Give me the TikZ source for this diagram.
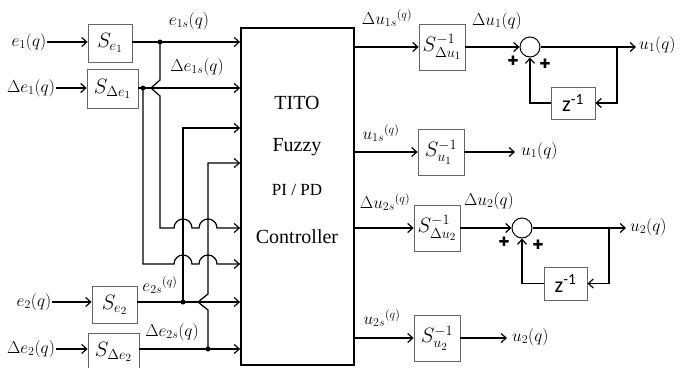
\documentclass[tikz,border=0pt]{standalone}
\usepackage{fontspec}
\usepackage{amsmath}
\usepackage{tikz}
\usetikzlibrary{arrows.meta, positioning, calc}
\newfontfamily\ctrlfont{Liberation Serif}
\newfontfamily\zfont{Carlito}
\newfontfamily\plusfont{DejaVu Sans}
\tikzset{
	sbox/.style={rectangle, draw=black!60, line width=0.8pt, minimum width=46pt,
		minimum height=46pt, inner sep=0pt, font=\fontsize{22.5}{25}\selectfont},
	zbox/.style={rectangle, draw=black!60, line width=0.8pt, minimum width=44pt,
		minimum height=32pt, inner sep=0pt, font=\zfont\fontsize{22}{24}\selectfont},
	ctrl/.style={rectangle, draw, line width=1.8pt, minimum width=113pt,
		minimum height=337pt, inner sep=0pt},
	ctxt/.style={font=\ctrlfont\fontsize{20}{22}\selectfont, inner sep=0pt},
	sum/.style={circle, draw, line width=1pt, minimum size=20pt, inner sep=0pt},
	arr/.style={-{Straight Barb[length=5pt, width=9pt, line width=1.2pt]}, line width=1.2pt},
	jdot/.style={circle, fill, inner sep=0pt, minimum size=5pt},
	lbl/.style={font=\fontsize{18.5}{21}\selectfont, inner sep=1pt},
	plus/.style={font=\plusfont\fontsize{13}{13}\selectfont, inner sep=0pt},
}

\begin{document}
\begin{tikzpicture}[x=1pt, y=-1pt]
	\useasboundingbox (0,0) rectangle (687,367);
	
	\node[ctrl] (tito) at (297.5,196.5) {};
	\node[ctxt] (titotxt) at (297,103) {TITO};
	\node[ctxt] (fuzzytxt) at (297,147) {Fuzzy};
	\node[ctxt, font=\ctrlfont\fontsize{17}{20}\selectfont] (pipdtxt) at (297,190) {PI / PD};
	\node[ctxt] (ctrltxt) at (297,237) {Controller};
	
	\node[lbl] (le1) at (29,42) {$e_1(q)$};
	\node[lbl] (lde1) at (31,88) {$\Delta e_1(q)$};
	\node[lbl] (le2) at (34,302) {$e_2(q)$};
	\node[lbl] (lde2) at (31,349) {$\Delta e_2(q)$};
	
	\node[sbox, minimum width=44pt, minimum height=38pt] (se1) at (110,43) {$S_{e_1}$};
	\node[sbox, minimum width=51pt, minimum height=39pt] (sde1) at (112.5,89) {$S_{\Delta e_1}$};
	\node[sbox, minimum width=45pt, minimum height=37pt] (se2) at (114.5,305) {$S_{e_2}$};
	\node[sbox, minimum width=51pt, minimum height=38pt] (sde2) at (113.5,352) {$S_{\Delta e_2}$};
	
	\draw[arr] (le1) -- (le1 -| se1.west);
	\draw[arr] (lde1) -- (lde1 -| sde1.west);
	\draw[arr] (le2) -- (le2 -| se2.west);
	\draw[arr] (lde2) -- (lde2 -| sde2.west);
	
	\node[jdot] (d1) at (160,42) {};
	\node[jdot] (d2) at (143,88) {};
	\node[jdot] (d3) at (183,302) {};
	\node[jdot] (d4) at (208,349) {};
	
	\draw[arr] (le1 -| se1.east) -- (le1 -| tito.west);
	\draw[arr] (lde1 -| sde1.east) -- (lde1 -| tito.west);
	\draw[arr] (le2 -| se2.east) -- (le2 -| tito.west);
	\draw[arr] (lde2 -| sde2.east) -- (lde2 -| tito.west);
	
	\node[lbl] (le1s) at (189,21) {$e_{1s}(q)$};
	\node[lbl] (lde1s) at (197,67) {$\Delta e_{1s}(q)$};
	\node[lbl] (le2s) at (160,285) {$e_{2s}{}^{(q)}$};
	\node[lbl] (lde2s) at (172,332) {$\Delta e_{2s}(q)$};
	
	\draw[arr] (d1.center) -- (160,80) -- (151,88) -- (160,96) -- (160,228) -- (174,228)
	arc[start angle=180, end angle=0, radius=9pt] -- (199,228)
	arc[start angle=180, end angle=0, radius=9pt] -- (tito.west |- 0,228);
	\draw[arr] (d2.center) -- (143,264) -- (174,264)
	arc[start angle=180, end angle=0, radius=9pt] -- (199,264)
	arc[start angle=180, end angle=0, radius=9pt] -- (tito.west |- 0,264);
	\draw[arr] (d3.center) -- (183,128) -- (tito.west |- 0,128);
	\draw[arr] (d4.center) -- (208,310) -- (198,302) -- (208,294) -- (208,163) -- (tito.west |- 0,163);
	
	\node[sbox] (sidu1) at (442,47) {$S^{-1}_{\Delta u_1}$};
	\node[sbox] (siu1) at (441,152) {$S^{-1}_{u_1}$};
	\node[sbox] (sidu2) at (437,228) {$S^{-1}_{\Delta u_2}$};
	\node[sbox] (siu2) at (437,338) {$S^{-1}_{u_2}$};
	
	\draw[arr] (tito.east |- sidu1) -- (sidu1);
	\draw[arr] (tito.east |- siu1) -- (siu1);
	\draw[arr] (tito.east |- sidu2) -- (sidu2);
	\draw[arr] (tito.east |- siu2) -- (siu2);
	
	\node[lbl] (ldu1s) at (387,18) {$\Delta u_{1s}{}^{(q)}$};
	\node[lbl] (lu1s) at (381,133) {$u_{1s}{}^{(q)}$};
	\node[lbl] (ldu2s) at (385,202) {$\Delta u_{2s}{}^{(q)}$};
	\node[lbl] (lu2s) at (382,318) {$u_{2s}{}^{(q)}$};
	
	\node[sum] (sum1) at (530,47) {};
	\node[zbox] (z1) at (573,103) {z\textsuperscript{-1}};
	\coordinate (b1) at (617,47);
	\coordinate (o1) at (636,47);
	\node[lbl, anchor=west] (lu1) at (638,45) {$u_1(q)$};
	\node[lbl] (ldu1) at (497,21) {$\Delta u_1(q)$};
	\node[plus] (p1a) at (513,61) {✚};
	\node[plus] (p1b) at (545,64) {✚};
	
	\draw[arr] (sidu1) -- (sum1);
	\draw[arr] (sum1) -- (o1);
	\draw[arr] (b1) |- (z1);
	\draw[arr] (z1) -| (sum1);
	
	\coordinate (o2) at (515,152);
	\node[lbl, anchor=west] (lu1b) at (520,151) {$u_1(q)$};
	\draw[arr] (siu1) -- (o2);
	
	\node[sum] (sum2) at (522,228) {};
	\node[zbox, minimum width=43pt, minimum height=33pt] (z2) at (565.5,283.5) {z\textsuperscript{-1}};
	\coordinate (b2) at (609,228);
	\coordinate (o3) at (626,228);
	\node[lbl, anchor=west] (lu2) at (629,227) {$u_2(q)$};
	\node[lbl] (ldu2) at (489,201) {$\Delta u_2(q)$};
	\node[plus] (p2a) at (504,242) {✚};
	\node[plus] (p2b) at (538,245) {✚};
	
	\draw[arr] (sidu2) -- (sum2);
	\draw[arr] (sum2) -- (o3);
	\draw[arr] (b2) |- (z2);
	\draw[arr] (z2) -| (sum2);
	
	\coordinate (o4) at (507,338);
	\node[lbl, anchor=west] (lu2b) at (511,337) {$u_2(q)$};
	\draw[arr] (siu2) -- (o4);
	
\end{tikzpicture}
\end{document}
